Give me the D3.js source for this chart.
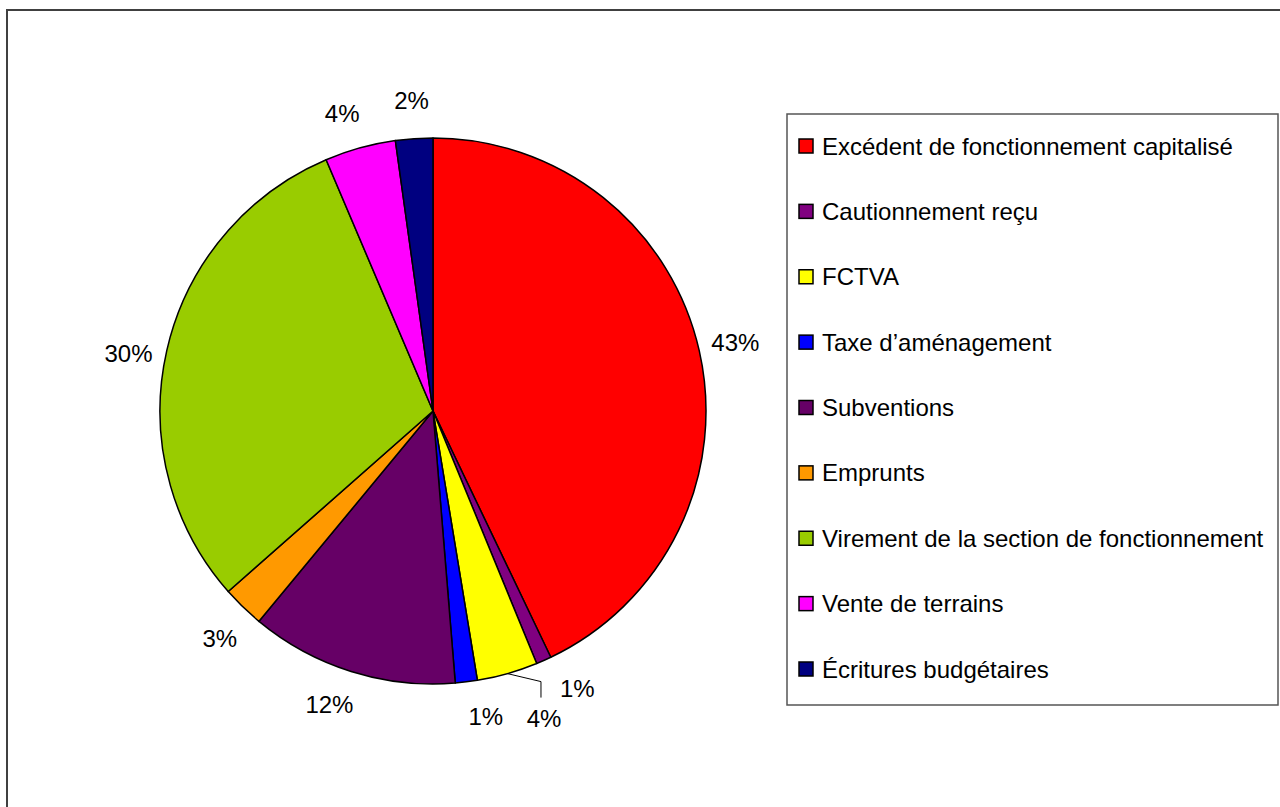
<!DOCTYPE html>
<html>
<head>
<meta charset="utf-8">
<script src="https://cdn.jsdelivr.net/npm/d3@7"></script>
<style>
  body { margin: 0; background: #fff; }
  svg { display: block; font-family: 'Liberation Sans', Arial, sans-serif; }
</style>
</head>
<body>
<div id="chart"></div>
<script>
// Chart data (percent of total).
const categories = [
  'Excédent de fonctionnement capitalisé',
  'Cautionnement reçu',
  'FCTVA',
  'Taxe d\u2019aménagement',
  'Subventions',
  'Emprunts',
  'Virement de la section de fonctionnement',
  'Vente de terrains',
  'Écritures budgétaires'
]
const values = [42.9, 0.9, 3.6, 1.3, 12.3, 2.5, 30.1, 4.2, 2.2]
const colors = ['#ff0000', '#800080', '#ffff00', '#0000ff', '#660066', '#ff9900', '#99cc00', '#ff00ff', '#000080']

// Label nudges (degrees, px) for crowded slices; index 2 gets a leader line.
const labelNudge = [0, -3.5, -4, -2.8, 2, -1, -2, -1.5, 0]
const labelPush = [0, 3, 17, 0, 1, 2, 0, 1, 1]

const width = 1280,
      height = 807,
      cx = 433,
      cy = 411,
      radius = 273

const svg = d3.select('#chart')
  .append('svg')
    .attr('width', width)
    .attr('height', height)

// Outer frame (runs off the picture on the right and bottom).
svg.append('rect')
  .attr('x', 7)
  .attr('y', 10)
  .attr('width', 1300)
  .attr('height', 820)
  .attr('fill', 'none')
  .attr('stroke', '#404040')
  .attr('stroke-width', 2)

const pie = d3.pie().sort(null).value(d => d)
const arcs = pie(values)

const arc = d3.arc().innerRadius(0).outerRadius(radius)

const g = svg.append('g')
  .attr('transform', 'translate(' + cx + ',' + cy + ')')

g.selectAll('path')
  .data(arcs)
  .enter()
  .append('path')
    .attr('d', arc)
    .attr('fill', (d, i) => colors[i])
    .attr('stroke', '#000')
    .attr('stroke-width', 1.5)
    .attr('stroke-linejoin', 'round')

// Label positions.
const labelR = 310
function polar(a, r) {
  return [Math.sin(a) * r, -Math.cos(a) * r]
}
const labels = arcs.map((d, i) => {
  const mid = (d.startAngle + d.endAngle) / 2 + labelNudge[i] * Math.PI / 180
  return { d: d, i: i, pos: polar(mid, labelR + labelPush[i]), mid: (d.startAngle + d.endAngle) / 2 }
})

// Leader line for the yellow slice.
labels.filter(l => l.i === 2).forEach(l => {
  const start = polar(l.mid, radius)
  const lx = l.pos[0] - 3
  g.append('polyline')
    .attr('points', [start, [lx, l.pos[1] - 37], [lx, l.pos[1] - 21]].map(p => p.join(',')).join(' '))
    .attr('fill', 'none')
    .attr('stroke', '#000')
    .attr('stroke-width', 1)
})

g.selectAll('text.pct')
  .data(labels)
  .enter()
  .append('text')
    .attr('class', 'pct')
    .attr('x', l => l.pos[0])
    .attr('y', l => l.pos[1])
    .attr('text-anchor', 'middle')
    .attr('dominant-baseline', 'central')
    .style('font-size', '24px')
    .text(l => Math.round(values[l.i]) + '%')

// Legend.
const legend = svg.append('g')

legend.append('rect')
  .attr('x', 787)
  .attr('y', 114)
  .attr('width', 491)
  .attr('height', 591)
  .attr('fill', '#fff')
  .attr('stroke', '#555')
  .attr('stroke-width', 1.5)

const rowY = d3.scalePoint()
  .domain(categories)
  .range([146, 669])

const item = legend.selectAll('g.item')
  .data(categories)
  .enter()
  .append('g')
    .attr('class', 'item')
    .attr('transform', d => 'translate(0,' + rowY(d) + ')')

item.append('rect')
  .attr('x', 799)
  .attr('y', -7)
  .attr('width', 14)
  .attr('height', 14)
  .attr('fill', (d, i) => colors[i])
  .attr('stroke', '#000')
  .attr('stroke-width', 1.5)

item.append('text')
  .attr('x', 822)
  .attr('y', 0)
  .attr('dominant-baseline', 'central')
  .style('font-size', '24px')
  .text(d => d)
</script>
</body>
</html>
